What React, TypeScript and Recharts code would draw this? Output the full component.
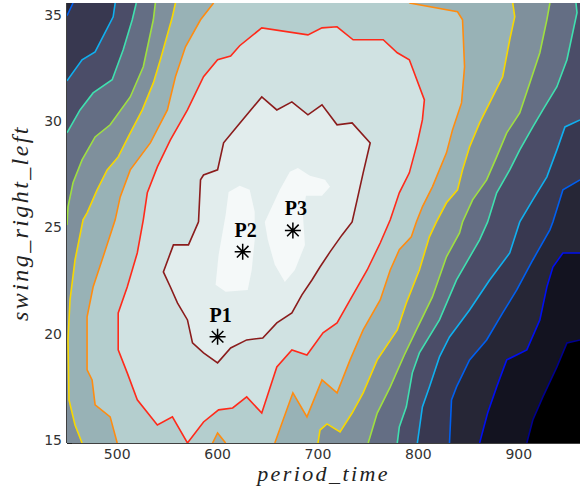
import React from 'react';
import { ScatterChart, Scatter, XAxis, YAxis } from 'recharts';

type Pt = [number, number];

const X_MIN = 450;
const X_MAX = 961;
const Y_MIN = 15;
const Y_MAX = 35.7;
const X_TICKS = [500, 600, 700, 800, 900];
const Y_TICKS = [15, 20, 25, 30, 35];

// contour lines, [period_time, swing_right_left]
// left branches run from the left/bottom edge to the top, right branches from top/right to bottom
const navy: Pt[] = [[961, 19.85], [948, 19.71], [938, 18.58], [924, 17.17], [914, 16.08], [908, 15]];
const blue: Pt[] = [[961, 23.94], [944, 23.94], [934, 23.28], [928, 22.34], [921, 20.79], [908, 19.38], [888, 18.91], [878, 17.64], [869, 16.41], [861, 15]];
const mblueLeft: Pt[] = [[450, 35.1], [456, 35.7]];
const mblueRight: Pt[] = [[961, 27.38], [944, 26.91], [934, 25.4], [931, 25.03], [914, 23.61], [898, 22.2], [884, 21.12], [868, 19.85], [851, 18.91], [838, 17.64], [833, 17.03], [831, 15]];
const cyanLeft: Pt[] = [[450, 32.04], [465, 33.03], [478, 33.4], [496, 35.05], [498, 35.7]];
const cyanRight: Pt[] = [[961, 30.2], [946, 29.87], [938, 28.79], [928, 27.52], [914, 26.44], [901, 25.4], [891, 23.94], [871, 22.67], [851, 21.26], [831, 19.99], [821, 19.05], [811, 17.64], [804, 16.7], [799, 15]];
const tealLeft: Pt[] = [[450, 29.59], [463, 30.67], [476, 31.47], [495, 32.09], [506, 33.5], [515, 34.91], [519, 35.7]];
const tealRight: Pt[] = [[957, 35.7], [958, 35.24], [948, 33.03], [938, 31.76], [924, 30.67], [914, 29.87], [901, 28.79], [891, 27.85], [878, 26.77], [869, 25.4], [861, 24.56], [838, 22.67], [821, 20.79], [801, 19.24], [794, 18.3], [788, 16.7], [781, 15.75], [779, 15]];
const greenLeft: Pt[] = [[450, 25.26], [451, 26.11], [456, 27.24], [465, 28.32], [478, 29.4], [493, 29.97], [513, 31.28], [526, 32.7], [536, 34.91], [538, 35.7]];
const greenRight: Pt[] = [[931, 35.7], [928, 34.91], [921, 33.36], [911, 31.94], [901, 30.53], [888, 29.59], [878, 28.46], [868, 27.38], [854, 26.44], [844, 25.4], [841, 24.88], [828, 23.76], [814, 21.87], [798, 20.32], [786, 19.14], [772, 17.64], [759, 16.41], [750, 15]];
const yellowLeft: Pt[] = [[465, 15], [458, 15.85], [452, 17.03], [451, 19.85], [453, 21.73], [458, 23.61], [466, 25.5], [470, 25.83], [480, 26.91], [490, 27.85], [501, 28.46], [511, 29.4], [525, 30.67], [536, 31.94], [543, 33.03], [555, 35.05], [558, 35.7]];
const yellowRight: Pt[] = [[894, 35.7], [896, 35.05], [891, 33.97], [884, 32.23], [871, 31], [861, 30.06], [851, 28.93], [844, 27.85], [839, 26.91], [828, 26.3], [818, 25.4], [811, 24.7], [801, 23.14], [788, 21.59], [779, 20.32], [759, 18.91], [745, 17.36], [734, 16.41], [722, 15.52], [709, 15.9], [702, 15.61], [700, 15]];
const orangeLeft: Pt[] = [[500, 15], [493, 16.23], [478, 16.79], [475, 17.97], [470, 18.44], [470, 20.93], [476, 22.34], [486, 23.76], [498, 25.5], [503, 26.58], [513, 27.85], [533, 29.12], [550, 30.67], [558, 32.23], [568, 33.64], [583, 34.91], [596, 35.7]];
const orangeRight: Pt[] = [[791, 35.7], [839, 35.29], [844, 34.91], [846, 32.7], [843, 31], [834, 29.73], [828, 28.65], [814, 27.05], [804, 26.11], [798, 25.4], [793, 24.7], [781, 24.09], [772, 23.14], [762, 21.73], [745, 20.32], [732, 18.91], [719, 17.36], [704, 17.97], [689, 16.23], [675, 17.36], [657, 15]];
const orangeDip: Pt[] = [[608, 15], [600, 15.47], [595, 15]];
const redLoop: Pt[] = [[570, 15], [555, 16.23], [540, 15.85], [520, 17.03], [510, 18.3], [501, 19.38], [501, 21.12], [510, 22.34], [520, 23.94], [526, 25.5], [530, 26.77], [540, 27.99], [553, 29.26], [570, 30.67], [586, 32.23], [600, 33.03], [613, 33.21], [622, 33.69], [644, 34.53], [690, 34.2], [704, 34.53], [719, 34.58], [735, 33.97], [765, 33.97], [779, 33.36], [791, 33.03], [806, 31.14], [804, 30.2], [799, 29.12], [791, 27.71], [781, 26.77], [772, 25.5], [762, 24.41], [749, 23.14], [732, 21.73], [719, 20.65], [705, 20.18], [689, 19.14], [674, 19.38], [659, 18.58], [644, 16.41], [629, 17.17], [615, 16.65], [601, 16.56], [586, 15.99], [570, 15]];
const darkRedLoop: Pt[] = [[581, 25.4], [583, 27.38], [586, 27.61], [600, 27.85], [606, 29.12], [619, 29.87], [644, 31.28], [659, 30.67], [674, 31.05], [690, 30.44], [704, 30.91], [719, 29.97], [734, 30.06], [752, 29.12], [745, 27.71], [739, 26.44], [734, 25.4], [724, 24.79], [712, 23.99], [702, 23.28], [694, 22.67], [684, 21.97], [674, 21.12], [659, 20.65], [645, 19.94], [629, 19.85], [613, 19.47], [600, 18.77], [586, 19.24], [575, 19.71], [570, 20.79], [560, 21.59], [553, 22.34], [546, 23.05], [556, 24.32], [571, 24.32], [581, 25.4]];
const peakLeft: Pt[] = [[611, 26.81], [622, 27.1], [632, 26.91], [637, 25.87], [637, 24.56], [634, 23.14], [630, 22.2], [608, 22.11], [598, 22.44], [601, 23.85], [608, 25.73]];
const peakRight: Pt[] = [[647, 25.4], [662, 26.91], [672, 27.76], [680, 27.94], [692, 27.57], [707, 27.38], [712, 27.05], [704, 26.63], [688, 26.63], [685, 25.73], [687, 24.32], [677, 23.14], [667, 22.58], [657, 23.38], [650, 24.56]];

const POINT_NAMES = ['P1', 'P2', 'P3'];
const POINT_X = [600, 625, 675];
const POINT_Y = [20, 24, 25];

const FILL_COLORS = ['#000000', '#131320', '#262636', '#383850', '#4b4d68', '#646e84', '#7f909c', '#98b2b6', '#b4cece', '#d0e2e2', '#e2eded'];
const PEAK_COLOR = '#f5f9f9';
const LINE_COLORS = ['#00008f', '#0010f0', '#0060f0', '#10b0f0', '#40e0b0', '#a0e040', '#f8d800', '#ff8c10', '#ff2a1a', '#8b1c1c'];

const TL: Pt = [X_MIN, Y_MAX];
const TR: Pt = [X_MAX, Y_MAX];
const BR: Pt = [X_MAX, Y_MIN];
const BL: Pt = [X_MIN, Y_MIN];

const regions: Pt[][] = [
  [BL, TL, TR, BR],
  [TL, TR, ...navy, BL],
  [TL, TR, ...blue, BL],
  [...mblueLeft, TR, ...mblueRight, BL],
  [...cyanLeft, TR, ...cyanRight, BL],
  [...tealLeft, ...tealRight, BL],
  [...greenLeft, ...greenRight, BL],
  [...yellowLeft, ...yellowRight],
  [...orangeLeft, ...orangeRight, ...orangeDip],
  redLoop,
  darkRedLoop,
];

const contourLines: { pts: Pt[]; level: number }[] = [
  { pts: navy, level: 0 },
  { pts: blue, level: 1 },
  { pts: mblueLeft, level: 2 },
  { pts: mblueRight, level: 2 },
  { pts: cyanLeft, level: 3 },
  { pts: cyanRight, level: 3 },
  { pts: tealLeft, level: 4 },
  { pts: tealRight, level: 4 },
  { pts: greenLeft, level: 5 },
  { pts: greenRight, level: 5 },
  { pts: yellowLeft, level: 6 },
  { pts: yellowRight, level: 6 },
  { pts: orangeLeft, level: 7 },
  { pts: orangeRight, level: 7 },
  { pts: orangeDip, level: 7 },
  { pts: redLoop, level: 8 },
  { pts: darkRedLoop, level: 9 },
];

const toXY = (pts: Pt[]) => pts.map(([x, y]) => ({ x, y }));
const points = POINT_NAMES.map((name, i) => ({ name, x: POINT_X[i], y: POINT_Y[i] }));

const NoDot = () => <g />;

const Asterisk = (props: any) => {
  const { cx, cy, payload } = props;
  const r = 8;
  const d = 5.8;
  const path = `M${cx - r},${cy}L${cx + r},${cy}M${cx},${cy - r}L${cx},${cy + r}`
    + `M${cx - d},${cy - d}L${cx + d},${cy + d}M${cx - d},${cy + d}L${cx + d},${cy - d}`;
  return (
    <g>
      <path d={path} stroke="#000" strokeWidth={1.5} fill="none" />
      <text x={cx + 3} y={cy - 15} textAnchor="middle" fontFamily="'Liberation Serif', serif"
        fontWeight="bold" fontSize={20} fill="#000">
        {payload.name}
      </text>
    </g>
  );
};

const tickStyle = { fill: '#333', fontSize: 14, fontFamily: "'DejaVu Sans', sans-serif" };
const titleFont = "'Liberation Serif', serif";

export default function App() {
  return (
    <div style={{ position: 'absolute', left: 0, top: 0, width: 580, height: 488, background: '#fff' }}>
      <ScatterChart width={580} height={488} margin={{ top: 3, right: 0, bottom: 0, left: 0 }}>
        {regions.map((pts, i) => (
          <Scatter key={`r${i}`} yAxisId="l" data={toXY(pts)} shape={<NoDot />}
            line={{ fill: FILL_COLORS[i], stroke: 'none' }} isAnimationActive={false} />
        ))}
        {[peakLeft, peakRight].map((pts, i) => (
          <Scatter key={`p${i}`} yAxisId="l" data={toXY(pts)} shape={<NoDot />}
            line={{ fill: PEAK_COLOR, stroke: 'none' }} isAnimationActive={false} />
        ))}
        {contourLines.map((c, i) => (
          <Scatter key={`c${i}`} yAxisId="l" data={toXY(c.pts)} shape={<NoDot />}
            line={{ fill: 'none', stroke: LINE_COLORS[c.level], strokeWidth: 1.6 }} isAnimationActive={false} />
        ))}
        <Scatter yAxisId="l" data={points} shape={<Asterisk />} isAnimationActive={false} />
        <XAxis type="number" dataKey="x" domain={[X_MIN, X_MAX]} ticks={X_TICKS} interval={0}
          allowDataOverflow height={45} tickSize={-5} tickMargin={11} tick={tickStyle}
          axisLine={{ stroke: '#000', strokeWidth: 1.5 }} tickLine={{ stroke: '#000' }}
          label={{ value: 'period_time', position: 'insideBottom', offset: 7, fill: '#222', fontSize: 22,
            fontStyle: 'italic', fontFamily: titleFont, letterSpacing: 2.4 }} />
        <YAxis yAxisId="l" type="number" dataKey="y" domain={[Y_MIN, Y_MAX]} ticks={Y_TICKS} interval={0}
          allowDataOverflow width={67} tickSize={-5} tickMargin={10} tick={{ ...tickStyle, dy: -3 }}
          axisLine={{ stroke: '#000', strokeWidth: 1.5 }} tickLine={{ stroke: '#000' }}
          label={{ value: 'swing_right_left', angle: -90, position: 'insideLeft', offset: 19, fill: '#222',
            fontSize: 24, fontStyle: 'italic', fontFamily: titleFont, letterSpacing: 2.4,
            style: { textAnchor: 'middle' } }} />
        <YAxis yAxisId="r" orientation="right" type="number" dataKey="y" domain={[Y_MIN, Y_MAX]}
          ticks={Y_TICKS} interval={0} allowDataOverflow width={0} tickSize={-5} tick={false}
          axisLine={false} tickLine={{ stroke: '#000' }} />
      </ScatterChart>
    </div>
  );
}
